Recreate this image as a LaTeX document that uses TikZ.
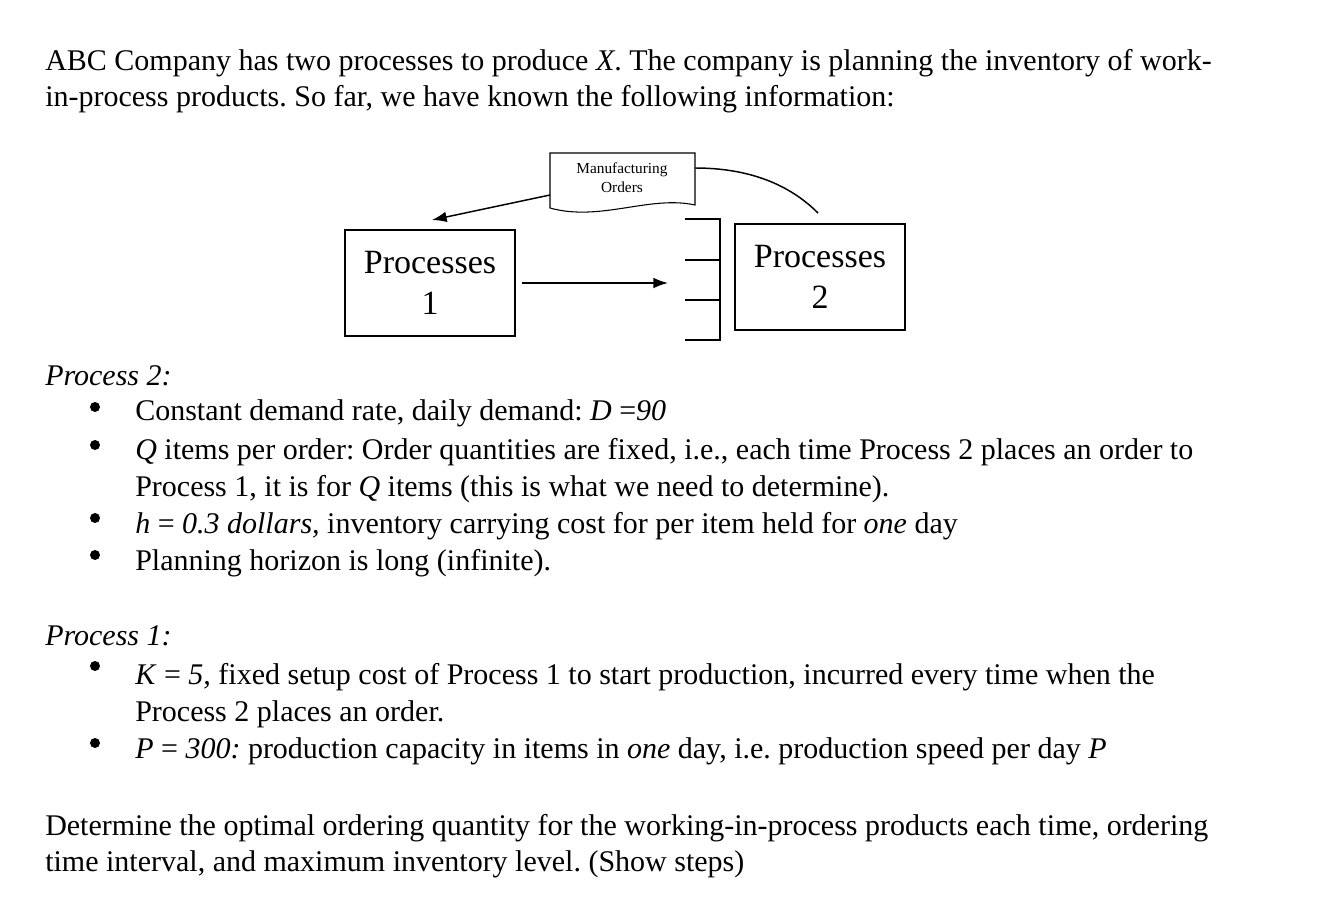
\documentclass[tikz,border=0pt]{standalone}
\usepackage{fontspec}
\setmainfont{Liberation Serif}
\usetikzlibrary{arrows.meta}
\begin{document}
\frenchspacing
\begin{tikzpicture}[x=0.75pt,y=-0.75pt,
  t/.style={anchor=base west,inner sep=0pt,font=\fontsize{22.5pt}{24pt}\selectfont},
  bx/.style={draw,line width=1.6pt,minimum width=127.5pt,minimum height=80pt,align=center,font=\fontsize{25.5pt}{31pt}\selectfont},
  bul/.style={circle,fill,inner sep=0pt,minimum size=7.5pt},
  arr/.style={-{Latex[length=11pt,width=8pt]},line width=1.1pt}]
\useasboundingbox (0,0) rectangle (1322,903);
\node[t] (l1) at (45,70) {ABC Company has two processes to produce \textit{X}. The company is planning the inventory of work-};
\node[t] (l2) at (45,106) {in-process products. So far, we have known the following information:};
% diagram
\node[bx] (p1) at (430,283) {Processes\\1};
\node[bx] (p2) at (820,277) {Processes\\2};
\draw[line width=0.8pt] (550,153) -- (695,153) -- (695,205) .. controls (650,195) and (600,222) .. (550,208) -- cycle;
\node[align=center,font=\fontsize{11.5pt}{14pt}\selectfont,inner sep=0pt] (mo) at (622,178) {Manufacturing\\Orders};
\coordinate (a1) at (550,195);
\coordinate (a2) at (432,220);
\draw[arr] (a1) -- (a2);
\coordinate (c1) at (695,168);
\coordinate (c2) at (818,213);
\draw[line width=1.1pt] (c1) .. controls (750,168) and (790,185) .. (c2);
\coordinate (f1) at (522,283);
\coordinate (f2) at (668,283);
\draw[arr] (f1) -- (f2);
\coordinate (b0) at (685,219);
\coordinate (b3) at (685,340);
\draw[line width=2.2pt] (b0) -- (720,219) -- (720,340) -- (b3);
\draw[line width=2.2pt] (685,260) -- (720,260) (685,300) -- (720,300);
% process 2
\node[t] (h2) at (45,385) {\textit{Process 2:}};
\foreach \y in {407,445,518,555} \node[bul] at (95,\y) {};
\node[t] (a) at (135,420) {Constant demand rate, daily demand: \textit{D} =\textit{90}};
\node[t] (b) at (135,459) {\textit{Q} items per order: Order quantities are fixed, i.e., each time Process 2 places an order to};
\node[t] (b2) at (135,496) {Process 1, it is for \textit{Q} items (this is what we need to determine).};
\node[t] (c) at (135,533) {\textit{h} = \textit{0.3 dollars,} inventory carrying cost for per item held for \textit{one} day};
\node[t] (d) at (135,570) {Planning horizon is long (infinite).};
% process 1
\node[t] (h1) at (45,645) {\textit{Process 1:}};
\foreach \y in {666,743} \node[bul] at (95,\y) {};
\node[t] (e) at (135,684) {\textit{K} = \textit{5,} fixed setup cost of Process 1 to start production, incurred every time when the};
\node[t] (e2) at (135,721) {Process 2 places an order.};
\node[t] (f) at (135,758) {\textit{P} = \textit{300:} production capacity in items in \textit{one} day, i.e. production speed per day \textit{P}};
\node[t] (g) at (45,835) {Determine the optimal ordering quantity for the working-in-process products each time, ordering};
\node[t] (g2) at (45,871) {time interval, and maximum inventory level. (Show steps)};
\end{tikzpicture}
\end{document}
